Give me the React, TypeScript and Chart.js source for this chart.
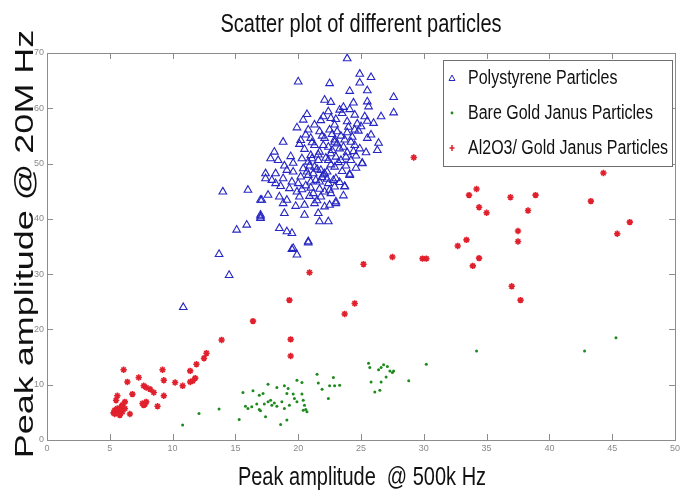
import React, { useEffect, useRef } from "react";
import { Chart, registerables } from "chart.js";

Chart.register(...registerables);

const chartTitle = "Scatter plot of different particles";
const xAxisTitle = "Peak amplitude  @ 500k Hz";
const yAxisTitle = "Peak amplitude @ 20M Hz";
const seriesNames = ["Polystyrene Particles", "Bare Gold Janus Particles", "Al2O3/ Gold Janus Particles"];
const xTickValues = [0, 5, 10, 15, 20, 25, 30, 35, 40, 45, 50];
const yTickValues = [0, 10, 20, 30, 40, 50, 60, 70];

const polystyrene: number[][] = [
  [23.9, 69.0], [20.0, 64.8], [22.5, 64.5], [24.9, 66.2], [25.8, 65.6], [24.9, 64.6], [24.1, 63.1], [25.5, 63.2],
  [27.6, 62.0], [22.1, 61.5], [22.6, 61.1], [24.4, 61.0], [25.5, 61.2], [25.6, 60.3], [27.6, 59.2], [23.3, 59.7],
  [23.5, 59.1], [24.5, 58.8], [25.3, 58.5], [26.6, 58.5], [22.0, 58.5], [22.6, 58.2], [20.4, 57.9], [21.3, 57.0],
  [22.9, 57.0], [23.9, 57.6], [25.0, 56.7], [25.5, 57.7], [26.0, 57.3], [20.8, 56.1], [21.7, 55.8], [22.5, 56.1],
  [23.1, 55.8], [23.9, 55.6], [24.5, 56.1], [20.6, 55.2], [21.0, 54.6], [22.1, 54.6], [22.9, 54.3], [23.7, 54.3],
  [24.2, 53.9], [25.5, 54.6], [18.8, 53.9], [20.1, 53.5], [21.3, 53.3], [22.4, 53.0], [23.3, 52.7], [24.5, 53.3],
  [24.9, 52.7], [26.4, 53.7], [26.3, 52.4], [21.7, 52.1], [22.6, 51.8], [23.0, 51.2], [23.8, 51.2], [24.6, 51.4],
  [18.1, 52.1], [17.8, 50.9], [18.4, 50.6], [20.3, 50.9], [20.8, 50.3], [21.6, 50.6], [22.4, 50.6], [23.4, 50.6],
  [25.1, 50.0], [21.3, 49.4], [21.8, 48.8], [22.1, 48.2], [22.9, 49.4], [19.1, 48.8], [19.6, 48.5], [20.4, 49.1],
  [20.8, 47.9], [17.4, 48.2], [18.2, 48.2], [18.8, 47.3], [19.5, 46.7], [20.0, 46.4], [21.0, 46.7], [21.7, 46.7],
  [22.4, 46.4], [23.0, 47.3], [24.1, 47.9], [17.4, 47.3], [18.2, 46.4], [16.0, 45.2], [14.0, 44.9], [17.6, 44.3],
  [18.5, 44.0], [19.1, 43.4], [19.9, 44.9], [20.1, 44.0], [21.2, 44.6], [21.8, 44.0], [22.6, 44.6], [23.7, 45.8],
  [17.1, 43.4], [18.8, 42.8], [20.5, 42.5], [21.3, 42.8], [22.1, 42.2], [22.5, 42.5], [23.0, 42.8], [18.9, 41.0],
  [20.5, 40.7], [17.0, 40.4], [21.7, 39.5], [22.4, 39.5], [15.9, 38.9], [15.1, 38.0], [18.5, 38.3], [19.1, 37.7],
  [19.5, 37.4], [20.8, 35.9], [19.6, 34.7], [17.0, 43.4], [17.0, 40.7], [20.8, 35.7], [19.5, 34.5], [19.9, 33.5],
  [13.7, 33.6], [14.5, 29.8], [10.85, 24.0], [21.6, 41.0], [23.0, 43.1], [23.7, 45.9], [24.1, 48.1], [25.1, 50.1],
  [17.0, 40.1], [22.0, 48.0], [21.9, 47.5], [22.3, 48.5], [21.5, 49.0], [22.6, 49.8], [23.2, 50.2], [21.2, 48.2],
  [20.9, 49.6], [22.8, 47.0], [23.5, 48.6], [22.2, 51.0], [21.0, 51.5], [23.9, 52.0], [24.3, 54.8], [23.1, 53.6],
  [22.0, 53.3], [21.4, 47.0], [20.6, 46.0], [21.7, 45.4], [22.9, 45.8], [20.2, 47.6], [19.3, 45.5], [18.6, 45.9],
  [19.8, 42.3], [20.9, 44.1], [22.1, 44.9], [23.3, 46.6], [24.6, 49.2], [24.0, 56.6], [23.0, 58.0], [21.9, 55.0],
  [20.5, 52.6], [19.4, 51.3], [18.9, 49.6], [17.9, 47.0], [22.7, 55.3], [24.8, 55.9], [25.8, 55.2], [23.6, 60.2],
  [22.4, 59.4], [20.7, 58.9], [19.9, 56.5], [21.1, 53.8], [24.2, 50.6], [25.4, 52.0],
  [21.1, 50.9], [22.7, 52.4], [23.6, 53.0], [21.6, 51.6], [22.3, 47.2], [20.7, 48.5], [23.8, 49.6], [22.5, 45.2],
  [21.0, 45.6], [24.4, 52.2], [23.4, 55.0], [20.2, 54.2], [19.6, 50.1], [24.7, 57.2], [21.5, 43.3], [23.6, 44.2],
  [20.3, 45.3], [22.9, 53.9], [21.8, 57.8], [24.1, 59.8],
];

const bareGold: number[][] = [
  [12.1, 4.8], [13.7, 5.6], [15.3, 3.7], [15.6, 8.6], [16.4, 8.9], [17.6, 10.1], [18.3, 9.5], [18.9, 9.8],
  [19.2, 9.3], [19.1, 8.4], [19.6, 8.3], [19.9, 10.8], [20.3, 10.4], [21.5, 11.9], [22.8, 11.3], [21.6, 10.3],
  [21.9, 9.2], [22.5, 9.8], [22.9, 9.8], [23.3, 9.9], [22.4, 7.5], [15.8, 6.1], [16.0, 5.7], [16.3, 6.0],
  [16.7, 6.5], [16.9, 5.5], [17.0, 5.3], [17.3, 6.5], [17.6, 6.9], [17.8, 7.2], [17.9, 6.3], [18.1, 6.7],
  [18.3, 6.1], [18.7, 6.9], [18.9, 5.7], [19.3, 6.3], [19.7, 7.5], [19.9, 6.9], [20.3, 8.3], [20.4, 7.2],
  [20.5, 6.3], [20.6, 5.5], [20.4, 5.4], [20.7, 5.1], [17.4, 4.2], [18.6, 2.8], [19.1, 3.6], [17.2, 8.4],
  [16.9, 8.1], [25.6, 13.9], [25.7, 13.1], [26.4, 12.7], [26.6, 13.1], [26.8, 13.6], [27.1, 13.3], [27.3, 12.5],
  [27.5, 12.2], [27.6, 12.5], [27.0, 11.4], [26.6, 10.5], [25.8, 10.5], [26.1, 8.7], [26.5, 9.0], [28.8, 10.7],
  [30.2, 13.7], [10.8, 2.7], [34.2, 16.1], [42.8, 16.1], [45.3, 18.5],
];

const aluminaGold: number[][] = [
  [16.4, 21.5], [13.9, 18.1], [12.7, 15.7], [12.5, 14.8], [11.9, 13.7], [11.4, 12.5], [11.8, 11.2], [11.6, 10.7],
  [11.4, 10.5], [10.8, 9.8], [10.2, 10.4], [9.2, 12.7], [9.3, 10.8], [9.3, 8.0], [8.8, 6.1], [8.5, 8.6],
  [8.2, 9.2], [7.9, 9.5], [7.7, 9.8], [7.3, 11.3], [7.6, 6.6], [7.8, 6.5], [7.9, 6.9], [7.7, 6.3],
  [6.8, 8.3], [6.4, 10.5], [6.1, 12.7], [6.6, 4.7], [5.6, 8.0], [5.5, 7.2], [5.9, 6.0], [6.2, 5.7],
  [6.0, 6.3], [5.4, 5.4], [5.3, 4.9], [5.8, 4.5], [6.0, 5.1], [5.4, 4.7], [5.6, 5.7], [6.2, 6.9],
  [5.7, 5.3], [19.4, 18.2], [19.4, 15.2], [29.2, 51.1], [27.5, 33.1], [25.2, 31.8], [20.9, 30.3], [19.3, 25.3],
  [24.5, 24.7], [23.7, 22.8], [44.3, 48.3], [33.6, 44.3], [34.2, 45.4], [34.4, 42.1], [35.0, 41.1], [36.9, 43.9],
  [38.9, 44.3], [38.3, 41.5], [43.3, 43.2], [46.4, 39.4], [45.4, 37.3], [37.5, 37.8], [37.5, 35.9], [32.7, 35.1],
  [33.4, 36.2], [29.9, 32.8], [30.2, 32.8], [34.4, 32.9], [33.9, 31.5], [37.0, 27.8], [37.7, 25.3],
];

const BLUE = "#2626c4";
const GREEN = "#1e8a1e";
const RED = "#e0202c";
const FONT = '"Liberation Sans", Arial, sans-serif';

function drawStretchedText(ctx: CanvasRenderingContext2D, text: string, x: number, y: number, size: number, sx: number, sy: number, rot: number, align: CanvasTextAlign, baseline: CanvasTextBaseline) {
  ctx.save();
  ctx.translate(x, y);
  if (rot) ctx.rotate(rot);
  ctx.scale(sx, sy);
  ctx.font = `${size}px ${FONT}`;
  ctx.textAlign = align;
  ctx.textBaseline = baseline;
  ctx.fillStyle = "#111";
  ctx.fillText(text, 0, 0);
  ctx.restore();
}

const decorPlugin = {
  id: "decor",
  afterDraw(chart: any) {
    const { ctx, chartArea } = chart;
    const { left, right, top, bottom } = chartArea;
    const xs = chart.scales.x;
    const ys = chart.scales.y;
    ctx.save();
    ctx.strokeStyle = "#8c8c8c";
    ctx.lineWidth = 1;
    ctx.strokeRect(Math.round(left) + 0.5, Math.round(top) + 0.5, Math.round(right - left), Math.round(bottom - top));
    ctx.beginPath();
    const tl = 6;
    xTickValues.forEach((v) => {
      const px = Math.round(xs.getPixelForValue(v)) + 0.5;
      ctx.moveTo(px, bottom);
      ctx.lineTo(px, bottom - tl);
      ctx.moveTo(px, top);
      ctx.lineTo(px, top + tl);
    });
    yTickValues.forEach((v) => {
      const py = Math.round(ys.getPixelForValue(v)) + 0.5;
      ctx.moveTo(left, py);
      ctx.lineTo(left + tl, py);
      ctx.moveTo(right, py);
      ctx.lineTo(right - tl, py);
    });
    ctx.stroke();
    ctx.restore();

    drawStretchedText(ctx, chartTitle, (left + right) / 2, 32, 26, 0.77, 1, 0, "center", "alphabetic");
    drawStretchedText(ctx, xAxisTitle, (left + right) / 2 + 1, 485, 25, 0.8, 1, 0, "center", "alphabetic");
    drawStretchedText(ctx, yAxisTitle, 33, 244, 36, 1, 0.72, -Math.PI / 2, "center", "alphabetic");

    const bx = 443, by = 60, bw = 229, bh = 106;
    ctx.save();
    ctx.fillStyle = "#ffffff";
    ctx.fillRect(bx, by, bw, bh);
    ctx.strokeStyle = "#6e6e6e";
    ctx.lineWidth = 1;
    ctx.strokeRect(bx + 0.5, by + 0.5, bw, bh);
    const rows = [78, 113, 148];
    const mx = 452;
    ctx.strokeStyle = BLUE;
    ctx.beginPath();
    ctx.moveTo(mx, rows[0] - 3);
    ctx.lineTo(mx + 3, rows[0] + 2.5);
    ctx.lineTo(mx - 3, rows[0] + 2.5);
    ctx.closePath();
    ctx.stroke();
    ctx.fillStyle = GREEN;
    ctx.beginPath();
    ctx.arc(mx, rows[1], 1.4, 0, Math.PI * 2);
    ctx.fill();
    ctx.strokeStyle = RED;
    ctx.lineWidth = 1.5;
    ctx.beginPath();
    ctx.moveTo(mx, rows[2] - 3);
    ctx.lineTo(mx, rows[2] + 3);
    ctx.moveTo(mx - 2.5, rows[2]);
    ctx.lineTo(mx + 2.5, rows[2]);
    ctx.stroke();
    ctx.restore();
    seriesNames.forEach((name, i) => {
      drawStretchedText(ctx, name, 468, rows[i], 20, 0.8, 1, 0, "left", "middle");
    });
  },
};

export default function App() {
  const canvasRef = useRef<HTMLCanvasElement | null>(null);

  useEffect(() => {
    if (!canvasRef.current) return;
    const toPoints = (arr: number[][]) => arr.map(([x, y]) => ({ x, y }));
    const tickFont = { family: '"Liberation Sans Narrow", "Liberation Sans", Arial, sans-serif', size: 9 };
    const chart = new Chart(canvasRef.current, {
      type: "scatter",
      data: {
        datasets: [
          {
            label: seriesNames[0],
            data: toPoints(polystyrene),
            pointStyle: "triangle",
            pointRadius: 4.4,
            borderColor: BLUE,
            backgroundColor: "rgba(0,0,0,0)",
            borderWidth: 1.1,
          },
          {
            label: seriesNames[1],
            data: toPoints(bareGold),
            pointStyle: "circle",
            pointRadius: 1.5,
            borderColor: GREEN,
            backgroundColor: GREEN,
            borderWidth: 0,
          },
          {
            label: seriesNames[2],
            data: toPoints(aluminaGold),
            pointStyle: "star",
            pointRadius: 3.2,
            borderColor: RED,
            backgroundColor: RED,
            borderWidth: 1.6,
          },
        ],
      },
      options: {
        responsive: false,
        animation: false,
        events: [],
        layout: { padding: { top: 53, right: 15, left: 0, bottom: 0 } },
        plugins: {
          legend: { display: false },
          title: { display: false },
          tooltip: { enabled: false },
        },
        scales: {
          x: {
            type: "linear",
            min: 0,
            max: 50,
            afterBuildTicks: (s: any) => {
              s.ticks = xTickValues.map((v) => ({ value: v }));
            },
            afterFit: (s: any) => {
              s.height = 56;
            },
            ticks: { color: "#8a8a8a", font: tickFont, padding: 3, maxRotation: 0, autoSkip: false },
            grid: { display: false, drawTicks: false },
            border: { display: false },
          },
          y: {
            type: "linear",
            min: 0,
            max: 70,
            afterBuildTicks: (s: any) => {
              s.ticks = yTickValues.map((v) => ({ value: v }));
            },
            afterFit: (s: any) => {
              s.width = 47;
            },
            ticks: { color: "#8a8a8a", font: tickFont, padding: 3, autoSkip: false },
            grid: { display: false, drawTicks: false },
            border: { display: false },
          },
        },
      },
      plugins: [decorPlugin],
    });
    return () => chart.destroy();
  }, []);

  return (
    <div style={{ position: "fixed", left: 0, top: 0, width: 690, height: 496, background: "#fff" }}>
      <canvas ref={canvasRef} width={690} height={496} style={{ width: 690, height: 496, display: "block" }} />
    </div>
  );
}
